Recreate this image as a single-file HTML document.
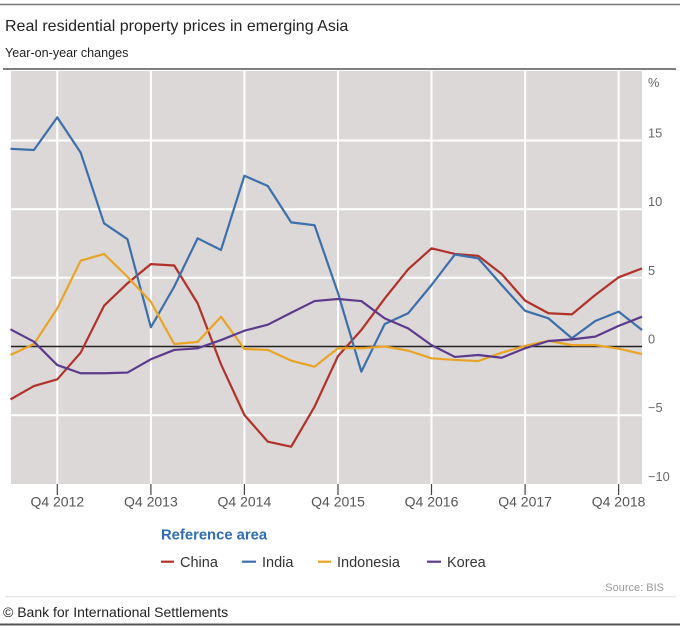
<!DOCTYPE html>
<html><head><meta charset="utf-8"><style>
html,body{margin:0;padding:0;background:#fff;}
svg{display:block;font-family:"Liberation Sans",sans-serif;}
</style></head><body>
<svg width="680" height="626" viewBox="0 0 680 626" xmlns="http://www.w3.org/2000/svg">
<rect width="680" height="626" fill="#fff"/>
<line x1="0" y1="4.5" x2="680" y2="4.5" stroke="#777" stroke-width="1.5"/>
<text x="5" y="31" font-size="16" fill="#222">Real residential property prices in emerging Asia</text>
<text x="5" y="57" font-size="12.6" fill="#222">Year-on-year changes</text>
<line x1="3" y1="69" x2="676" y2="69" stroke="#555" stroke-width="1.5"/>
<rect x="11" y="71" width="631" height="413" fill="#dcd8d8"/>
<g stroke="#fff" stroke-width="2">
<line x1="57.3" y1="71" x2="57.3" y2="484"/>
<line x1="150.9" y1="71" x2="150.9" y2="484"/>
<line x1="244.4" y1="71" x2="244.4" y2="484"/>
<line x1="338" y1="71" x2="338" y2="484"/>
<line x1="431.5" y1="71" x2="431.5" y2="484"/>
<line x1="525.1" y1="71" x2="525.1" y2="484"/>
<line x1="618.6" y1="71" x2="618.6" y2="484"/>
<line x1="11" y1="140.5" x2="642" y2="140.5"/>
<line x1="11" y1="209.2" x2="642" y2="209.2"/>
<line x1="11" y1="277.8" x2="642" y2="277.8"/>
<line x1="11" y1="415.2" x2="642" y2="415.2"/>
</g>
<line x1="11" y1="346.5" x2="642" y2="346.5" stroke="#222" stroke-width="1.6"/>
<g transform="translate(10.5,346.5) scale(23.39,-13.73)" fill="none" stroke-width="2.2" stroke-linejoin="round">
<polyline vector-effect="non-scaling-stroke" stroke="#b0322a" points="0,-3.85 1,-2.88 2,-2.39 3,-0.45 4,2.97 5,4.6 6,6.0 7,5.9 8,3.15 9,-1.3 10,-4.99 11,-6.93 12,-7.3 13,-4.38 14,-0.7 15,1.2 16,3.5 17,5.62 18,7.15 19,6.74 20,6.6 21,5.28 22,3.34 23,2.42 24,2.34 25,3.75 26,5.04 27,5.69"/>
<polyline vector-effect="non-scaling-stroke" stroke="#3d6fab" points="0,14.4 1,14.31 2,16.69 3,14.12 4,8.97 5,7.81 6,1.4 7,4.36 8,7.88 9,7.03 10,12.44 11,11.69 12,9.04 13,8.83 14,3.9 15,-1.83 16,1.64 17,2.42 18,4.48 19,6.7 20,6.42 21,4.48 22,2.6 23,2.05 24,0.6 25,1.86 26,2.54 27,1.2"/>
<polyline vector-effect="non-scaling-stroke" stroke="#e9a426" points="0,-0.62 1,0.18 2,2.78 3,6.25 4,6.74 5,5.08 6,3.26 7,0.18 8,0.33 9,2.17 10,-0.18 11,-0.25 12,-1.03 13,-1.47 14,-0.13 15,-0.13 16,0 17,-0.3 18,-0.86 19,-0.98 20,-1.06 21,-0.45 22,0.04 23,0.42 24,0.1 25,0.1 26,-0.16 27,-0.55"/>
<polyline vector-effect="non-scaling-stroke" stroke="#5c3b8c" points="0,1.25 1,0.35 2,-1.35 3,-1.95 4,-1.95 5,-1.9 6,-0.93 7,-0.25 8,-0.13 9,0.47 10,1.15 11,1.59 12,2.46 13,3.31 14,3.46 15,3.31 16,2.05 17,1.32 18,0.1 19,-0.76 20,-0.62 21,-0.82 22,-0.13 23,0.4 24,0.52 25,0.72 26,1.5 27,2.17"/>
</g>
<g font-size="12.8" fill="#666">
<text x="648" y="87">%</text>
<text x="648" y="137.5">15</text>
<text x="648" y="206.2">10</text>
<text x="648" y="274.8">5</text>
<text x="648" y="343.5">0</text>
<text x="648" y="412.2">−5</text>
<text x="648" y="481">−10</text>
</g>
<g stroke="#444" stroke-width="1.2">
<line x1="57.3" y1="484" x2="57.3" y2="495"/>
<line x1="150.9" y1="484" x2="150.9" y2="495"/>
<line x1="244.4" y1="484" x2="244.4" y2="495"/>
<line x1="338" y1="484" x2="338" y2="495"/>
<line x1="431.5" y1="484" x2="431.5" y2="495"/>
<line x1="525.1" y1="484" x2="525.1" y2="495"/>
<line x1="618.6" y1="484" x2="618.6" y2="495"/>
</g>
<g font-size="14" fill="#555" text-anchor="middle">
<text x="57.3" y="506.5">Q4 2012</text>
<text x="150.9" y="506.5">Q4 2013</text>
<text x="244.4" y="506.5">Q4 2014</text>
<text x="338" y="506.5">Q4 2015</text>
<text x="431.5" y="506.5">Q4 2016</text>
<text x="525.1" y="506.5">Q4 2017</text>
<text x="618.6" y="506.5">Q4 2018</text>
</g>
<text x="161" y="539.5" font-size="14.8" font-weight="bold" fill="#2f6db3">Reference area</text>
<g stroke-width="2.2">
<line x1="161" y1="561.7" x2="174" y2="561.7" stroke="#b0322a"/>
<line x1="242" y1="561.7" x2="256" y2="561.7" stroke="#3d6fab"/>
<line x1="318" y1="561.7" x2="331" y2="561.7" stroke="#e9a426"/>
<line x1="427" y1="561.7" x2="441" y2="561.7" stroke="#5c3b8c"/>
</g>
<g font-size="14.5" fill="#333">
<text x="180" y="566.8">China</text>
<text x="262" y="566.8">India</text>
<text x="337" y="566.8">Indonesia</text>
<text x="447" y="566.8">Korea</text>
</g>
<text x="664" y="591" font-size="11" fill="#999" text-anchor="end">Source: BIS</text>
<line x1="5" y1="596.7" x2="676" y2="596.7" stroke="#ddd" stroke-width="1"/>
<text x="3" y="617" font-size="14" fill="#222">© Bank for International Settlements</text>
<line x1="0" y1="624.5" x2="680" y2="624.5" stroke="#555" stroke-width="2"/>
</svg>
</body></html>
